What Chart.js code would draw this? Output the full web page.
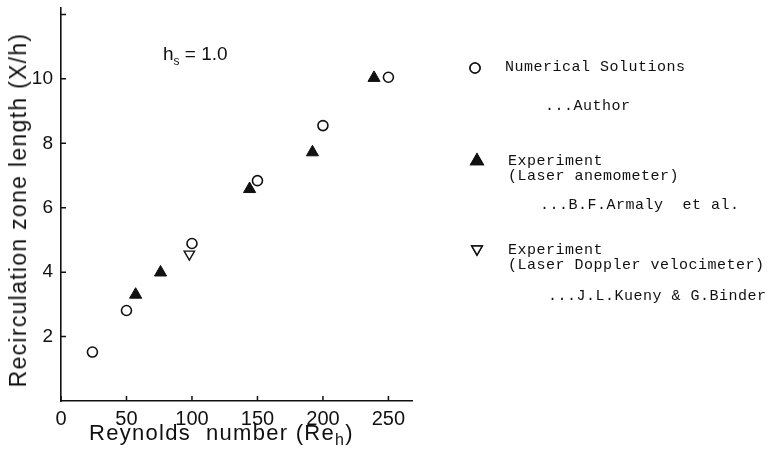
<!DOCTYPE html>
<html>
<head>
<meta charset="utf-8">
<script src="https://cdn.jsdelivr.net/npm/chart.js@4/dist/chart.umd.min.js"></script>
<style>
  html, body { margin: 0; padding: 0; background: #fff; }
  #wrap { position: relative; width: 771px; height: 451px; overflow: hidden; }
  #wrap canvas { position: absolute; left: 0; top: 0; }
  .lbl { position: absolute; white-space: nowrap; color: #111; }
  .mono { font-family: "Liberation Mono", "DejaVu Sans Mono", monospace; font-size: 15px; letter-spacing: 0.5px; line-height: 15px; }
  .sans { font-family: "Liberation Sans", Arial, sans-serif; }
  #ytitle { left: 18px; top: 210px; font-size: 23px; letter-spacing: 1.3px; line-height: 26px;
            transform: translate(-50%, -50%) rotate(-90deg); }
</style>
</head>
<body>
<div id="wrap">
  <canvas id="chart" width="771" height="451"></canvas>
  <div class="lbl sans" id="ytitle">Recirculation zone length (X/h)</div>
  <div class="lbl sans" style="left:163px; top:43px; font-size:19px;">h<sub style="font-size:12px;">s</sub> = 1.0</div>
  <div class="lbl sans" style="left:89px; top:420px; font-size:22px; letter-spacing:1.3px;">Reynolds&nbsp; number (Re<sub style="font-size:16px;">h</sub>)</div>

  <canvas id="legendSym" width="40" height="240" style="left:458px; top:50px;"></canvas>
  <div class="lbl mono" style="left:505px; top:60px;">Numerical Solutions</div>
  <div class="lbl mono" style="left:545px; top:99px;">...Author</div>
  <div class="lbl mono" style="left:508px; top:154px;">Experiment<br>(Laser anemometer)</div>
  <div class="lbl mono" style="left:540px; top:198px;">...B.F.Armaly&nbsp; et al.</div>
  <div class="lbl mono" style="left:508px; top:243px;">Experiment<br>(Laser Doppler velocimeter)</div>
  <div class="lbl mono" style="left:548px; top:289px;">...J.L.Kueny &amp; G.Binder</div>
</div>
<script>
// Numerical solutions (author) - open circles
const numRe = [24, 50, 100, 150, 200, 250];
const numX = [1.52, 2.81, 4.89, 6.84, 8.55, 10.05];

// Experiment, laser anemometer (Armaly et al.) - filled triangles
const armalyRe = [57, 76, 144, 192, 239];
const armalyX = [3.3, 3.99, 6.58, 7.72, 10.03];

// Experiment, laser Doppler velocimeter (Kueny & Binder) - open inverted triangle
const kuenyRe = [98];
const kuenyX = [4.56];

// axis ticks
const xTicks = [0, 50, 100, 150, 200, 250];
const yTicks = [2, 4, 6, 8, 10];
const yTickMarks = [2, 4, 6, 8, 10, 12];

const toPts = (xs, ys) => xs.map((x, i) => ({ x: x, y: ys[i] }));

// short tick marks pointing into the plot, like the original
const innerTicks = {
    id: "innerTicks",
    afterDraw(chart) {
        const c = chart.ctx;
        const xs = chart.scales.x, ys = chart.scales.y;
        c.save();
        c.strokeStyle = "#111";
        c.lineWidth = 1.5;
        c.beginPath();
        xTicks.forEach(v => {
            const px = xs.getPixelForValue(v);
            c.moveTo(px, ys.bottom);
            c.lineTo(px, ys.bottom - 5);
        });
        yTickMarks.forEach(v => {
            const py = ys.getPixelForValue(v);
            c.moveTo(xs.left, py);
            c.lineTo(xs.left + 5, py);
        });
        c.stroke();
        c.restore();
    }
};

const ctx = document.getElementById("chart").getContext("2d");
const chart = new Chart(ctx, {
    type: "scatter",
    data: {
        datasets: [
            {
                label: "Numerical Solutions",
                data: toPts(numRe, numX),
                pointStyle: "circle",
                pointRadius: 5,
                borderColor: "#111",
                borderWidth: 1.6,
                backgroundColor: "#fff",
            },
            {
                label: "Experiment (Laser anemometer)",
                data: toPts(armalyRe, armalyX),
                pointStyle: "triangle",
                pointRadius: 7,
                borderColor: "#111",
                borderWidth: 1,
                backgroundColor: "#111",
            },
            {
                label: "Experiment (Laser Doppler velocimeter)",
                data: toPts(kuenyRe, kuenyX),
                pointStyle: "triangle",
                rotation: 180,
                pointRadius: 6,
                borderColor: "#111",
                borderWidth: 1.4,
                backgroundColor: "#fff",
            },
        ],
    },
    options: {
        responsive: false,
        animation: false,
        layout: { padding: { left: 0, right: 359, top: 7, bottom: 0 } },
        scales: {
            x: {
                type: "linear",
                min: 0,
                max: 268,
                afterBuildTicks: s => { s.ticks = xTicks.map(v => ({ value: v })); },
                afterFit: s => { s.height = 50; },
                grid: { display: false, drawTicks: false },
                border: { display: true, color: "#111", width: 1.6 },
                ticks: {
                    color: "#111",
                    padding: 6,
                    font: { family: "Liberation Sans", size: 20 },
                },
            },
            y: {
                type: "linear",
                min: 0,
                max: 12.2,
                afterBuildTicks: s => { s.ticks = yTicks.map(v => ({ value: v })); },
                afterFit: s => { s.width = 61; s.paddingTop = 0; s.paddingBottom = 0; },
                grid: { display: false, drawTicks: false },
                border: { display: true, color: "#111", width: 1.6 },
                ticks: {
                    color: "#111",
                    padding: 8,
                    font: { family: "Liberation Sans", size: 19 },
                },
            },
        },
        plugins: {
            legend: { display: false },
            tooltip: { enabled: false },
        },
    },
    plugins: [innerTicks],
});

// legend symbols, drawn with the same point styles as the datasets
const lc = document.getElementById("legendSym").getContext("2d");
lc.strokeStyle = "#111";
lc.fillStyle = "#fff";
lc.lineWidth = 1.5;
Chart.helpers.drawPoint(lc, { pointStyle: "circle", radius: 5, rotation: 0, borderWidth: 1.5 }, 17, 18);
lc.fill(); lc.stroke();
lc.fillStyle = "#111";
Chart.helpers.drawPoint(lc, { pointStyle: "triangle", radius: 7, rotation: 0, borderWidth: 1 }, 19, 111);
lc.fill(); lc.stroke();
lc.fillStyle = "#fff";
Chart.helpers.drawPoint(lc, { pointStyle: "triangle", radius: 6, rotation: 180, borderWidth: 1.4 }, 19, 199);
lc.fill(); lc.stroke();
</script>
</body>
</html>
